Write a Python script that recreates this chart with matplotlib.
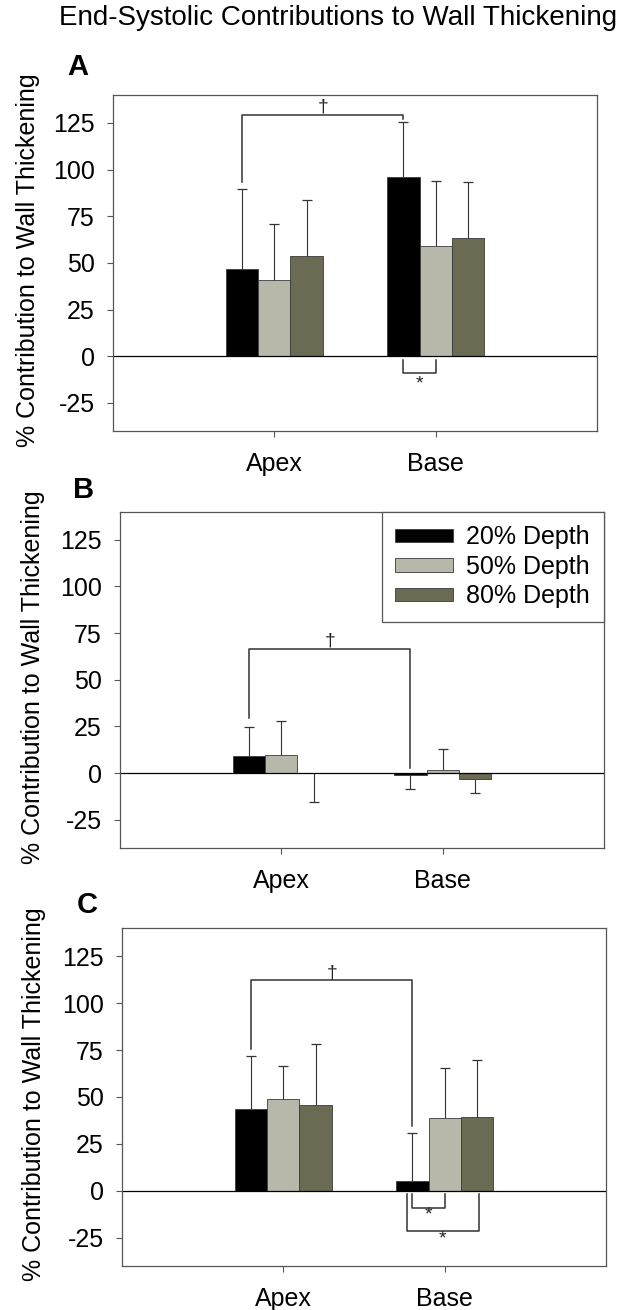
import matplotlib
matplotlib.use('Agg')
import matplotlib.pyplot as plt
import numpy as np

plt.rcParams['font.family'] = ['Liberation Sans', 'DejaVu Sans']

# ---------------- data ----------------
title = 'End-Systolic Contributions to Wall Thickening'
ylabel = '% Contribution to Wall Thickening'
categories = ['Apex', 'Base']
series = ['20% Depth', '50% Depth', '80% Depth']
colors = ['#000000', '#b7b7aa', '#6b6b53']
yticks = [-25, 0, 25, 50, 75, 100, 125]
panel_letters = ['A', 'B', 'C']

a_apex = [46.6, 40.8, 53.7]
a_apex_err = [43.1, 29.9, 30.1]
a_base = [96.1, 59.2, 63.4]
a_base_err = [29.6, 34.6, 29.9]

b_apex = [9.1, 9.8, -0.2]
b_apex_err = [15.7, 18.1, 15.4]
b_base = [-1.3, 1.8, -3.4]
b_base_err = [7.5, 10.9, 7.2]

c_apex = [43.6, 48.9, 45.9]
c_apex_err = [28.3, 17.5, 32.3]
c_base = [5.4, 38.6, 39.5]
c_base_err = [25.3, 26.9, 30.0]

# dagger brackets (Apex 20% vs Base 20%): [left foot, top, right foot]
a_dagger_y = [93.6, 129.4, 127.0]
b_dagger_y = [29.5, 66.7, 2.8]
c_dagger_y = [75.5, 112.3, 34.3]

# star brackets below zero: (x_left, x_right, top, bottom, star_y)
a_star = [(1.8, 2.0, -2.0, -8.8, -14.7)]
c_star = [(1.8, 2.0, -1.8, -9.1, -13.0), (1.765, 2.21, -1.8, -21.4, -25.5)]

# ---------------- layout ----------------
W, H = 630, 1310
fig = plt.figure(figsize=(W / 100, H / 100), dpi=100)

axes_px = [  # left, top, right, bottom in pixels
    (113, 95, 597, 431),
    (120, 511.7, 604, 847.7),
    (122, 928.3, 606, 1265.7),
]
letter_px = [(78, 67), (84, 490), (87, 905)]
ylabel_px = [(28, 260), (33, 677), (34, 1094)]

panels = [
    (a_apex, a_apex_err, a_base, a_base_err, a_dagger_y, a_star),
    (b_apex, b_apex_err, b_base, b_base_err, b_dagger_y, []),
    (c_apex, c_apex_err, c_base, c_base_err, c_dagger_y, c_star),
]

line_col = '#333333'
spine_col = '#555555'
fs = 18
width = 0.2

for k, (apex, apex_err, base, base_err, dag, stars) in enumerate(panels):
    l, t, r, b = axes_px[k]
    ax = fig.add_axes([l / W, 1 - b / H, (r - l) / W, (b - t) / H])
    x = np.arange(len(categories)) + 1.0
    for i, s in enumerate(series):
        vals = np.array([apex[i], base[i]])
        errs = np.array([apex_err[i], base_err[i]])
        xs = x + (i - 1) * width
        ax.bar(xs, vals, width, color=colors[i], edgecolor='#3a3a3a',
               linewidth=0.6, label=s, zorder=2)
        tips = np.where(vals >= 0, vals + errs, vals - errs)
        ax.vlines(xs, vals, tips, color=line_col, linewidth=0.8, zorder=3)
        ax.plot(xs, tips, linestyle='none', marker='_', markersize=7.6,
                markeredgewidth=0.9, color=line_col, zorder=3)
    ax.axhline(0, color='black', linewidth=0.9, zorder=2.5)

    # dagger bracket between Apex 20% and Base 20%
    x0 = x[0] - width
    x1 = x[1] - width
    ax.plot([x0, x0, x1, x1], [dag[0], dag[1], dag[1], dag[2]],
            color=line_col, linewidth=1.1, zorder=3)
    ax.text((x0 + x1) / 2, dag[1] - 0.5, '\u2020', ha='center', va='bottom',
            fontsize=14, color='#222222')

    for (xl, xr, top, bot, sy) in stars:
        ax.plot([xl, xl, xr, xr], [top, bot, bot, top], color=line_col,
                linewidth=1.1, zorder=3)
        ax.text((xl + xr) / 2, sy, '*', ha='center', va='center',
                fontsize=14, color='#222222')

    ax.set_xlim(0, 3)
    ax.set_ylim(-40, 140)
    ax.set_yticks(yticks)
    ax.set_yticklabels([str(v) for v in yticks])
    ax.set_xticks(x)
    ax.set_xticklabels(categories)
    for sp in ax.spines.values():
        sp.set_color(spine_col)
        sp.set_linewidth(0.9)
    ax.tick_params(axis='both', direction='out', length=4, width=0.8,
                   color=spine_col, labelsize=fs, top=False, right=False)
    ax.tick_params(axis='x', pad=11)
    ax.tick_params(axis='y', pad=9)

    if k == 1:
        leg = ax.legend(loc='upper right', bbox_to_anchor=(1, 1),
                        borderaxespad=0, frameon=True, fancybox=False,
                        edgecolor=spine_col, fontsize=fs, handlelength=2.3,
                        handleheight=0.47, handletextpad=0.55,
                        labelspacing=0.22, borderpad=0.55, framealpha=1)
        leg.get_frame().set_linewidth(0.9)

    lx, ly = letter_px[k]
    fig.text(lx / W, 1 - ly / H, panel_letters[k], fontsize=21,
             fontweight='bold', ha='center', va='center')
    yx, yy = ylabel_px[k]
    fig.text(yx / W, 1 - yy / H, ylabel, rotation=90, ha='center',
             va='center', fontsize=fs)

fig.text(338.5 / W, 1 - 18 / H, title, ha='center', va='center', fontsize=20)

fig.savefig('out.png', dpi=100)
